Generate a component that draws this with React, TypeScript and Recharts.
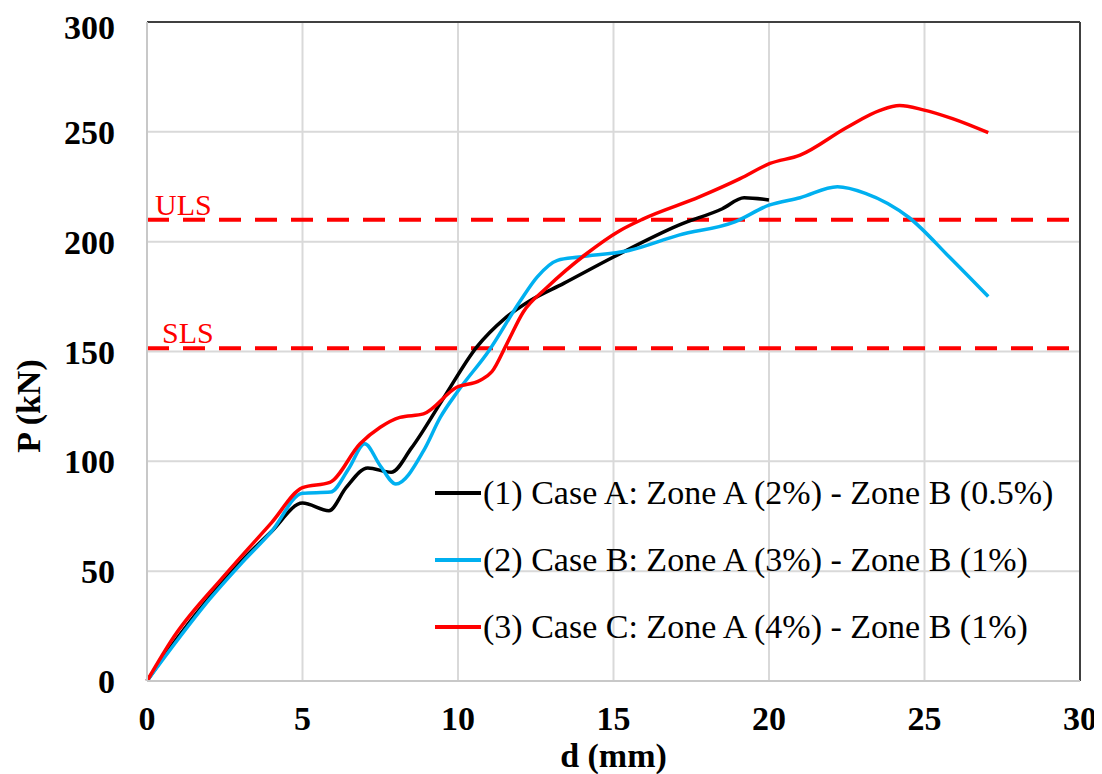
import React from 'react';
import { LineChart, Line, XAxis, YAxis, CartesianGrid, ReferenceLine, Legend } from 'recharts';

// series (1) black
const caseAD = [0, 1, 2, 3, 4, 5, 5.85, 6.4, 7.1, 7.85, 8.5, 9.5, 10.6, 11.5, 12.3, 13.4, 15, 17.1, 18.5, 19.2, 20];
const caseAP = [0, 20, 38, 54, 68, 81, 77.5, 88, 97, 95, 106, 128, 152, 165, 173, 181, 193, 207.5, 215, 220, 219];

// series (2) blue
const caseBD = [0, 1, 2, 3, 4, 5, 5.9, 6.5, 7.0, 7.5, 8.0, 8.9, 9.43, 10.0, 11.0, 12.0, 12.55, 13.2, 13.9, 15.5, 17.1, 18.9, 20.0, 21.0, 22.2, 23.1, 24.5, 25.8, 27.05];
const caseBP = [0, 19, 37, 53, 68, 85.5, 86, 97, 108, 98, 89.7, 105, 120, 132, 150.5, 173, 184, 191.5, 193, 196, 203, 209, 216.6, 220, 225, 222, 211, 193, 175];

// series (3) red
const caseCD = [0, 0.86, 2.46, 4, 5, 5.88, 6.85, 7.5, 8.13, 8.89, 9.96, 10.7, 11.1, 11.57, 12.1, 12.85, 14.13, 15.2, 15.96, 17.78, 19.07, 20.03, 21.0, 22.5, 23.57, 24.2, 24.96, 25.9, 27.05];
const caseCP = [0, 20, 47.5, 72, 88, 90.4, 108, 115.5, 120, 121.6, 133.7, 136.8, 141, 153.5, 168, 179, 194.5, 205, 210.4, 220.5, 228.7, 235.6, 239.4, 252, 259.8, 262, 260, 256, 249.6];

const seriesNames = [
  '(1) Case A: Zone A (2%) - Zone B (0.5%)',
  '(2) Case B: Zone A (3%) - Zone B (1%)',
  '(3) Case C: Zone A (4%) - Zone B (1%)',
];
const seriesColors = ['#000000', '#00b0f0', '#ff0000'];

const xTicks = [0, 5, 10, 15, 20, 25, 30];
const yTicks = [0, 50, 100, 150, 200, 250, 300];

const ulsValue = 210;
const slsValue = 151.5;

const toRows = (ds: number[], ps: number[]) => ds.map((d, i) => ({ d, p: ps[i] }));
const seriesData = [toRows(caseAD, caseAP), toRows(caseBD, caseBP), toRows(caseCD, caseCP)];

const FONT = "'Liberation Serif', 'Times New Roman', serif";

const renderLegend = (props: any) => {
  const { payload } = props;
  return (
    <div>
      {payload.map((entry: any, i: number) => (
        <div key={`leg-${i}`} style={{ display: 'flex', alignItems: 'center', height: 66.7 }}>
          <svg width={46} height={6}>
            <line x1={0} y1={3} x2={46} y2={3} stroke={entry.color} strokeWidth={4} />
          </svg>
          <span style={{ marginLeft: 2, fontFamily: FONT, fontSize: 34, color: '#000', whiteSpace: 'nowrap' }}>
            {entry.value}
          </span>
        </div>
      ))}
    </div>
  );
};

const refLabel = (text: string, dx: number) => (props: any) => {
  const { viewBox } = props;
  return (
    <text x={viewBox.x + dx} y={viewBox.y - 5} fill="#ff0000" fontFamily={FONT} fontSize={30}>
      {text}
    </text>
  );
};

const App = () => {
  return (
    <LineChart width={1094} height={766} margin={{ top: 14, right: 22, left: 0, bottom: 0 }}>
      <CartesianGrid stroke="#d9d9d9" strokeWidth={2} />
      <XAxis
        type="number"
        dataKey="d"
        domain={[0, 30]}
        ticks={xTicks}
        height={93}
        tickSize={0}
        tickMargin={25}
        stroke="#c8c8c8"
        strokeWidth={2}
        tick={{ fill: '#000', fontFamily: FONT, fontSize: 34, fontWeight: 'bold' }}
        label={(props: any) => (
          <text x={613.5 - 8} y={759} textAnchor="middle" fontFamily={FONT} fontSize={34} fontWeight="bold" fill="#000">
            d (mm)
          </text>
        )}
        allowDuplicatedCategory={false}
      />
      <YAxis
        type="number"
        dataKey="p"
        domain={[0, 300]}
        ticks={yTicks}
        width={139}
        tickSize={0}
        tickMargin={32}
        stroke="#c8c8c8"
        strokeWidth={2}
        tick={{ fill: '#000', fontFamily: FONT, fontSize: 34, fontWeight: 'bold' }}
        label={(props: any) => (
          <text
            x={32}
            y={398}
            transform="rotate(-90 32 398)"
            textAnchor="middle"
            fontFamily={FONT}
            fontSize={34}
            fontWeight="bold"
            fill="#000"
          >
            P (kN)
          </text>
        )}
      />
      <ReferenceLine y={300} stroke="#404040" strokeWidth={2} />
      <ReferenceLine x={30} stroke="#404040" strokeWidth={2} />
      <ReferenceLine y={ulsValue} stroke="#ff0000" strokeWidth={4} strokeDasharray="22 14" label={refLabel('ULS', 8)} />
      <ReferenceLine y={slsValue} stroke="#ff0000" strokeWidth={4} strokeDasharray="22 14" label={refLabel('SLS', 15)} />
      {seriesData.map((rows, i) => (
        <Line
          key={`s-${i}`}
          data={rows}
          dataKey="p"
          name={seriesNames[i]}
          type="monotone"
          stroke={seriesColors[i]}
          strokeWidth={3.5}
          dot={false}
          isAnimationActive={false}
        />
      ))}
      <Legend
        content={renderLegend}
        layout="vertical"
        align="center"
        verticalAlign="middle"
        wrapperStyle={{ left: 427, top: 452, width: 660 }}
      />
    </LineChart>
  );
};

export default App;
